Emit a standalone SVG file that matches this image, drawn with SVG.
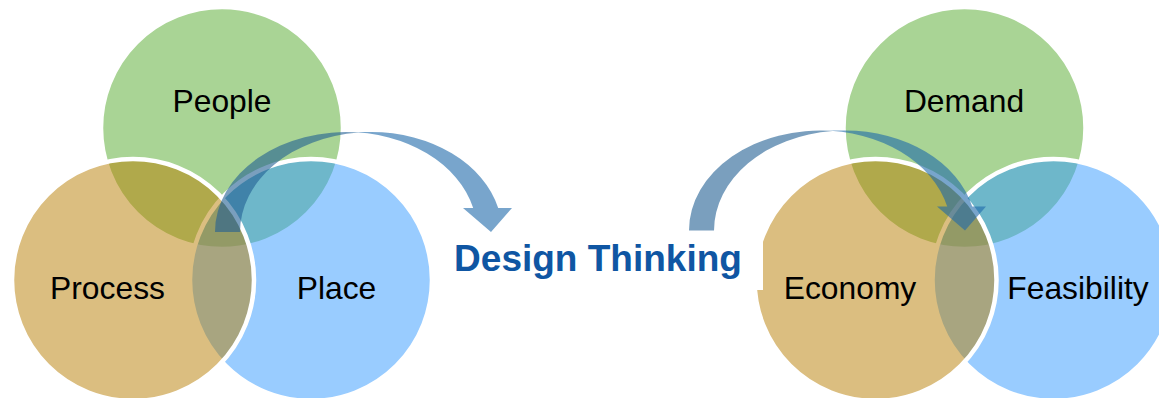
<svg xmlns="http://www.w3.org/2000/svg" width="1159" height="398" viewBox="0 0 1159 398">
  <style>
    .c { stroke: #ffffff; stroke-width: 4.5; fill-opacity: 0.5; }
    .g { fill: #53a92b; }
    .t { fill: #b77d01; }
    .b { fill: #3399ff; }
    .lbl { font-family: "Liberation Sans", Arial, sans-serif; font-size: 31.8px; fill: #000000; text-anchor: middle; }
    .title { font-family: "Liberation Sans", Arial, sans-serif; font-size: 37px; font-weight: bold; fill: #0f56a3; text-anchor: middle; }
    .ah { fill: #1e69aa; fill-opacity: 0.6; }
    .at { fill: #215f93; fill-opacity: 0.6; }
  </style>
  <rect width="1159" height="398" fill="#ffffff"/>

  <g id="people">
    <circle class="c g" cx="222" cy="128" r="121"/>
  </g>
  <g id="place">
    <circle class="c b" cx="311" cy="280" r="121"/>
  </g>
  <g id="process">
    <circle class="c t" cx="133" cy="280" r="121"/>
  </g>

  <g id="demand">
    <circle class="c g" cx="964.5" cy="128" r="121"/>
  </g>
  <g id="feasibility">
    <circle class="c b" cx="1053.5" cy="280" r="121"/>
  </g>
  <g id="economy">
    <circle class="c t" cx="875.5" cy="280" r="121"/>
  </g>

  <g id="design-thinking">
    <rect x="450" y="238" width="313" height="52" fill="#ffffff"/>
    <text class="title" x="598" y="270.5">Design Thinking</text>
  </g>

  <g id="connectors">
    <g id="arrow-left">
      <path class="at" d="M 215,232 A 131 100 0 0 1 358.5,132.5 A 131 100 0 0 0 240,232 Z"/>
      <path class="ah" d="M 491,232 L 463,208 L 473.2,208 A 131 100 0 0 0 346,132 L 371,132 A 131 100 0 0 1 498.2,208 L 512,208 Z"/>
    </g>
    <g id="arrow-right" transform="translate(474,-1.5)">
      <path class="at" d="M 215,232 A 131 100 0 0 1 358.5,132.5 A 131 100 0 0 0 240,232 Z"/>
      <path class="ah" d="M 491,232 L 463,208 L 473.2,208 A 131 100 0 0 0 346,132 L 371,132 A 131 100 0 0 1 498.2,208 L 512,208 Z"/>
    </g>
  </g>

  <g id="labels">
    <text class="lbl" x="222" y="112">People</text>
    <text class="lbl" x="107.5" y="298.5">Process</text>
    <text class="lbl" x="336.5" y="298.5">Place</text>
    <text class="lbl" x="964" y="112">Demand</text>
    <text class="lbl" x="850" y="298.5">Economy</text>
    <text class="lbl" x="1078" y="298.5">Feasibility</text>
  </g>
</svg>
